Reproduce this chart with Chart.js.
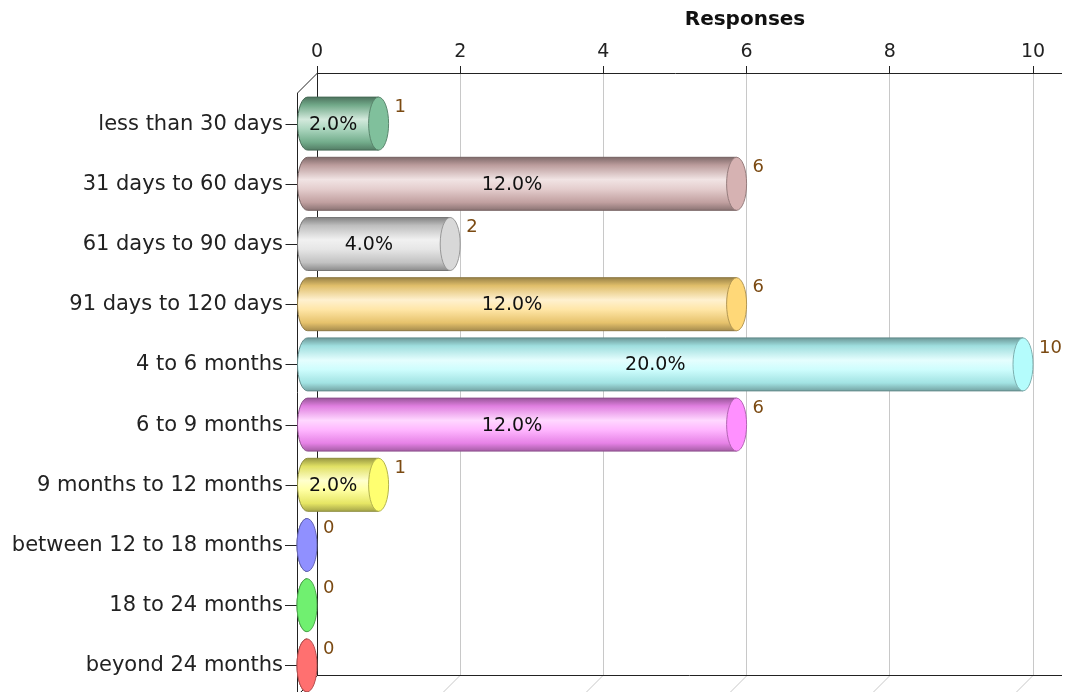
<!DOCTYPE html>
<html>
<head>
<meta charset="utf-8">
<script src="https://cdn.jsdelivr.net/npm/chart.js@4/dist/chart.umd.min.js"></script>
<style>
  html, body { margin: 0; padding: 0; background: #fff; }
  #wrap { width: 1066px; height: 692px; position: relative; }
</style>
</head>
<body>
<div id="wrap"><canvas id="myChart"></canvas></div>
<script>
"use strict";

// data
const categories = ['less than 30 days', '31 days to 60 days', '61 days to 90 days', '91 days to 120 days',
	'4 to 6 months', '6 to 9 months', '9 months to 12 months', 'between 12 to 18 months',
	'18 to 24 months', 'beyond 24 months'];
const responses = [1, 6, 2, 6, 10, 6, 1, 0, 0, 0];
const percents = [2.0, 12.0, 4.0, 12.0, 20.0, 12.0, 2.0, 0, 0, 0];
const xTicks = [0, 2, 4, 6, 8, 10];

// cylinder colours (cap colour, one per bar)
const capColors = ['#80c09c', '#d6b2b2', '#d8d8d8', '#ffd878', '#b4fcfc',
	'#ff90ff', '#ffff70', '#9090ff', '#70f070', '#ff7070'];

const DEPTH = 20;
const FONT = '"DejaVu Sans", Verdana, sans-serif';

function mix(hex, to, f) {
	const n = parseInt(hex.slice(1), 16);
	const r = (n >> 16) & 255, g = (n >> 8) & 255, b = n & 255;
	const t = to === 'w' ? 255 : 0;
	return 'rgb(' + Math.round(r + (t - r) * f) + ',' + Math.round(g + (t - g) * f) + ',' + Math.round(b + (t - b) * f) + ')';
}

function cylinder(ctx, xl, xr, cy, ry, col) {
	const rx = DEPTH / 2;
	const grad = ctx.createLinearGradient(0, cy - ry, 0, cy + ry);
	grad.addColorStop(0, mix(col, 'b', 0.4));
	grad.addColorStop(0.15, mix(col, 'b', 0.12));
	grad.addColorStop(0.42, mix(col, 'w', 0.65));
	grad.addColorStop(0.6, mix(col, 'w', 0.35));
	grad.addColorStop(0.85, mix(col, 'b', 0.1));
	grad.addColorStop(1, mix(col, 'b', 0.35));
	ctx.beginPath();
	ctx.moveTo(xr, cy - ry);
	ctx.lineTo(xl, cy - ry);
	ctx.ellipse(xl, cy, rx, ry, 0, -Math.PI / 2, Math.PI / 2, true);
	ctx.lineTo(xr, cy + ry);
	ctx.closePath();
	ctx.fillStyle = grad;
	ctx.fill();
	ctx.strokeStyle = mix(col, 'b', 0.45);
	ctx.lineWidth = 1;
	ctx.stroke();
	// end cap
	ctx.beginPath();
	ctx.ellipse(xr, cy, rx, ry, 0, 0, Math.PI * 2);
	ctx.fillStyle = col;
	ctx.fill();
	ctx.strokeStyle = mix(col, 'b', 0.3);
	ctx.stroke();
}

const frame3d = {
	id: 'frame3d',
	beforeDatasetsDraw(chart) {
		const ctx = chart.ctx;
		const a = chart.chartArea;
		const x = chart.scales.x;
		ctx.save();
		ctx.lineWidth = 1;
		// floor grid diagonals
		ctx.strokeStyle = '#c8c8c8';
		xTicks.forEach(v => {
			const px = Math.round(x.getPixelForValue(v)) + 0.5;
			ctx.beginPath();
			ctx.moveTo(px, a.bottom);
			ctx.lineTo(px - DEPTH, a.bottom + DEPTH);
			ctx.stroke();
		});
		ctx.strokeStyle = '#222';
		const l = Math.round(a.left) + 0.5;
		ctx.beginPath();
		// left wall
		ctx.moveTo(l, a.top);
		ctx.lineTo(l - DEPTH, a.top + DEPTH);
		ctx.lineTo(l - DEPTH, chart.height);
		// floor edge
		ctx.moveTo(l, a.bottom + 0.5);
		ctx.lineTo(l - DEPTH, a.bottom + DEPTH + 0.5);
		ctx.moveTo(a.left, Math.round(a.bottom) + 0.5);
		ctx.lineTo(chart.width - 4, Math.round(a.bottom) + 0.5);
		// top axis running past the wall
		ctx.moveTo(a.right, Math.round(a.top) + 0.5);
		ctx.lineTo(chart.width - 4, Math.round(a.top) + 0.5);
		ctx.stroke();
		// title
		ctx.fillStyle = '#111';
		ctx.font = 'bold 20px ' + FONT;
		ctx.textAlign = 'center';
		ctx.textBaseline = 'middle';
		ctx.fillText('Responses', 745, 20);
		ctx.restore();
	},
	afterDatasetsDraw(chart) {
		const ctx = chart.ctx;
		const meta = chart.getDatasetMeta(0);
		ctx.save();
		meta.data.forEach((bar, i) => {
			const cy = bar.y + DEPTH + 0.5;
			const ry = bar.height / 2;
			const xl = bar.base - DEPTH / 2;
			const xr = bar.x - DEPTH / 2;
			// category tick on the front wall
			ctx.strokeStyle = '#222';
			ctx.lineWidth = 1;
			ctx.beginPath();
			ctx.moveTo(bar.base - DEPTH - 12, Math.round(cy) + 0.5);
			ctx.lineTo(bar.base - DEPTH, Math.round(cy) + 0.5);
			ctx.stroke();
			cylinder(ctx, xl, xr, cy, ry, capColors[i]);
			ctx.textBaseline = 'middle';
			if (responses[i] > 0) {
				ctx.fillStyle = '#111';
				ctx.font = '19px ' + FONT;
				ctx.textAlign = 'center';
				ctx.fillText(percents[i].toFixed(1) + '%', (bar.base - DEPTH + bar.x - DEPTH) / 2, cy + 1);
			}
			ctx.fillStyle = '#7b4a12';
			ctx.font = '18px ' + FONT;
			ctx.textAlign = 'left';
			ctx.fillText(String(responses[i]), xr + 16, cy - ry + 10);
		});
		ctx.restore();
	}
};

const data = {
	labels: categories,
	datasets: [{
		label: 'Responses',
		data: responses,
		backgroundColor: 'rgba(0,0,0,0)',
		borderWidth: 0,
		categoryPercentage: 1,
		barPercentage: 0.88
	}]
};

const config = {
	type: 'bar',
	data: data,
	options: {
		indexAxis: 'y',
		responsive: true,
		maintainAspectRatio: false,
		animation: false,
		layout: { padding: { left: 0, right: 33, top: 0, bottom: 17 } },
		plugins: {
			legend: { display: false },
			tooltip: { enabled: false },
			title: { display: false }
		},
		scales: {
			x: {
				position: 'top',
				min: 0,
				max: 10,
				afterBuildTicks: s => { s.ticks = xTicks.map(v => ({ value: v })); },
				afterFit: s => { s.height = 73; s.paddingLeft = 0; s.paddingRight = 0; },
				grid: { color: '#c8c8c8', tickColor: '#222', tickLength: 7 },
				border: { color: '#222' },
				ticks: { color: '#222', font: { family: FONT, size: 19 }, padding: 3 }
			},
			y: {
				afterFit: s => { s.width = 317; s.paddingTop = 0; s.paddingBottom = 0; },
				grid: { display: false },
				border: { color: '#222' },
				ticks: {
					color: '#222',
					font: { family: FONT, size: 21 },
					padding: 26,
					labelOffset: DEPTH + 1
				}
			}
		}
	},
	plugins: [frame3d]
};

const myChart = new Chart(document.getElementById('myChart'), config);
</script>
</body>
</html>
